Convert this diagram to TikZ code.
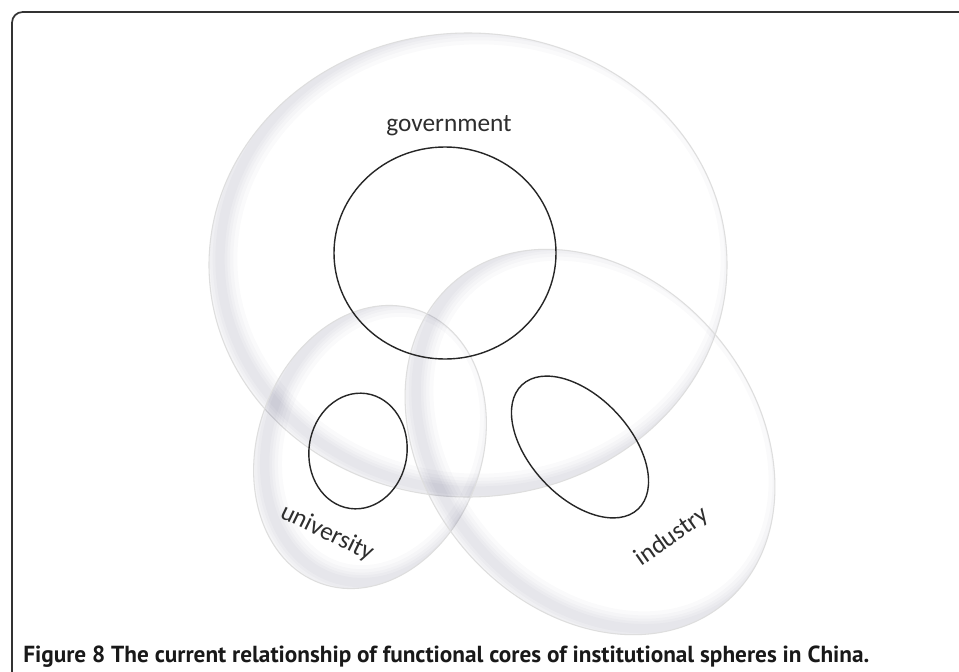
\documentclass[tikz,border=0pt]{standalone}
\usepackage{fontspec}
\setmainfont{Carlito}
\newfontfamily\capfont{PT Sans}
\newcommand\softellipse[5]{% cx, cy, rx, ry, angle
  \begin{scope}
    \clip[rotate around={#5:(#1,#2)}] (#1,#2) ellipse [x radius=#3, y radius=#4];
    \foreach \w in {26,20,15,11,7}
      \draw[draw=black!75!blue, draw opacity=0.02, line width=\w pt,
            rotate around={#5:(#1+11,#2-6)}] (#1+11,#2-6) ellipse [x radius=#3, y radius=#4];
  \end{scope}
  \draw[outer, rotate around={#5:(#1,#2)}] (#1,#2) ellipse [x radius=#3, y radius=#4];
}
\begin{document}
\begin{tikzpicture}[x=0.75pt,y=-0.75pt,
  outer/.style={draw=black!13, line width=0.8pt},
  core/.style={draw=black!85, line width=1.05pt},
  lbl/.style={font=\fontsize{19}{20}\selectfont, text=black!82, inner sep=0pt},
  framestyle/.style={draw=black!80, line width=1.3pt, rounded corners=8pt}]
\useasboundingbox (0,0) rectangle (959,671);
\fill[white] (0,0) rectangle (959,671);

% frame (open at right and bottom)
\coordinate (fbl) at (12,675);
\coordinate (ftl) at (12,12);
\coordinate (ftr) at (963,12);
\draw[framestyle] (fbl) -- (ftl) -- (ftr);

% outer spheres
\softellipse{468}{265}{259}{232}{0}
\softellipse{370}{447}{112}{145}{-20}
\softellipse{590}{442}{210}{165}{-50}

% functional cores
\draw[core] (445,253) ellipse [x radius=111, y radius=106];
\draw[core, rotate around={-8:(358,451)}] (358,451) ellipse [x radius=49, y radius=58];
\draw[core, rotate around={-47:(580,447)}] (580,447) ellipse [x radius=85, y radius=50];

% labels
\node[lbl] (gov) at (449,126) {government};
\node[lbl, rotate=-26] (uni) at (327,533) {university};
\node[lbl, rotate=35] (ind) at (672,537) {industry};

% caption
\node[anchor=base west, inner sep=0pt, text=black!90]
  (cap) at (23,662) {\resizebox{634.5pt}{!}{\capfont\bfseries\fontsize{14}{16}\selectfont Figure 8 The current relationship of functional cores of institutional spheres in China.}};
\end{tikzpicture}
\end{document}
